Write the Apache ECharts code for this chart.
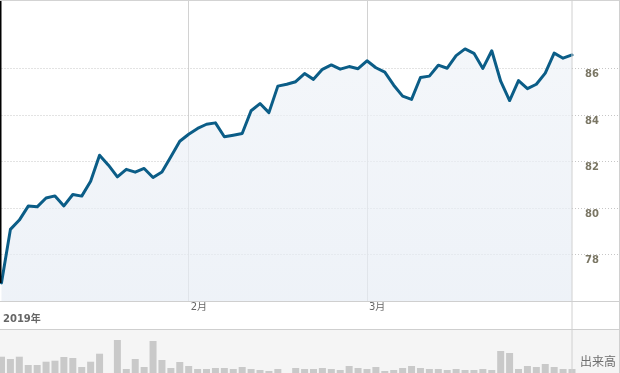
<!DOCTYPE html>
<html><head><meta charset="utf-8">
<script src="https://cdn.jsdelivr.net/npm/echarts@6/dist/echarts.min.js"></script>
<style>html,body{margin:0;padding:0;background:#fff}#c{width:620px;height:373px}</style>
</head><body><div id="c"></div>
<script>
// Closing prices (65 sessions)
const prices = [76.78,79.08,79.48,80.08,80.05,80.43,80.52,80.09,80.58,80.51,
  81.15,82.27,81.84,81.34,81.66,81.54,81.70,81.31,81.55,82.20,
  82.87,83.17,83.42,83.60,83.66,83.06,83.13,83.20,84.18,84.49,
  84.10,85.24,85.32,85.43,85.78,85.53,85.96,86.15,85.97,86.08,
  85.99,86.33,86.03,85.84,85.28,84.81,84.67,85.61,85.67,86.14,
  86.01,86.55,86.84,86.65,86.00,86.76,85.45,84.62,85.48,85.13,
  85.32,85.80,86.66,86.44,86.58];
// Volume (relative units)
const volumes = [163,140,163,80,80,113,123,160,150,60,
  113,193,0,330,40,140,60,320,130,50,
  110,70,40,40,50,50,40,60,40,30,
  20,40,0,50,40,40,50,40,30,70,
  50,40,60,20,30,50,70,50,40,40,
  30,40,30,30,40,30,220,200,40,70,
  60,90,60,40,40];
// Month boundaries (session index -> label)
const monthIndex = [21, 41];
const monthLabel = ['2月', '3月'];
const priceTicks = [78, 80, 82, 84, 86];
const yearLabel = '2019年';
const volumeLabel = '出来高';

const categories = prices.map((_, i) => String(i));
const chart = echarts.init(document.getElementById('c'), null, {renderer: 'canvas'});
const gridLineColor = '#d2d2d2';
const option = {
  animation: false,
  grid: [
    {left: 1.5, right: 48, top: 1, bottom: 72},
    {left: 572, right: 1, top: 1, bottom: 72},
    {left: 1.5, right: 48, top: 330, bottom: 0}
  ],
  xAxis: [
    {gridIndex: 0, type: 'category', data: categories, boundaryGap: false,
     axisLine: {show: false}, axisTick: {show: false},
     splitLine: {show: true, interval: (i) => monthIndex.includes(i), lineStyle: {color: gridLineColor, width: 1}},
     axisLabel: {show: true, interval: (i) => monthIndex.includes(i),
       formatter: (v, i) => { const k = monthIndex.indexOf(Number(v)); return k >= 0 ? monthLabel[k] : ''; },
       align: 'left', verticalAlign: 'top', margin: 1, padding: [0, 0, 0, 2],
       color: '#666', fontSize: 10, fontFamily: 'DejaVu Sans, Noto Sans CJK JP'}},
    {gridIndex: 1, type: 'value', min: 0, max: 1, show: false},
    {gridIndex: 2, type: 'category', data: categories, boundaryGap: false, show: false}
  ],
  yAxis: [
    {gridIndex: 0, type: 'value', min: 76, max: 88.9, show: false},
    {gridIndex: 1, type: 'value', min: 76, max: 88.9, interval: 2, position: 'left',
     axisLine: {show: false}, axisTick: {show: false}, splitLine: {show: false},
     axisLabel: {inside: true, margin: 13, verticalAlign: 'top', padding: [1, 0, 0, 0],
       formatter: (v) => priceTicks.includes(v) ? String(v) : '',
       color: '#7a7664', fontWeight: 'bold', fontSize: 10, fontFamily: 'DejaVu Sans'}},
    {gridIndex: 2, type: 'value', min: 0, max: 430, show: false}
  ],
  series: [
    {type: 'line', xAxisIndex: 0, yAxisIndex: 0, data: prices, showSymbol: false, z: 3,
     lineStyle: {color: '#0b5d87', width: 3, join: 'round', cap: 'round'},
     areaStyle: {origin: 'start', color: new echarts.graphic.LinearGradient(0, 0, 0, 1, [
       {offset: 0, color: '#eef2f7'}, {offset: 1, color: '#e6ecf4'}])},
     markLine: {silent: true, symbol: 'none', label: {show: false}, z: 2,
       lineStyle: {color: '#c6c6c6', type: [1, 2], width: 1},
       data: priceTicks.map(v => ({yAxis: v}))}},
    {type: 'line', xAxisIndex: 1, yAxisIndex: 1, data: [[0, 76], [1, 76]], showSymbol: false, silent: true,
     lineStyle: {opacity: 0},
     markLine: {silent: true, symbol: 'none', label: {show: false},
       lineStyle: {color: '#c6c6c6', type: [1, 2], width: 1},
       data: priceTicks.map(v => ({yAxis: v}))}},
    {type: 'bar', xAxisIndex: 2, yAxisIndex: 2, data: volumes, barWidth: 7, z: 3,
     itemStyle: {color: '#c9c9c9'}}
  ],
  graphic: [
    {type: 'rect', shape: {x: 0, y: 330, width: 620, height: 43}, style: {fill: '#f5f5f5'}, z: -10, silent: true},
    {type: 'rect', shape: {x: 0, y: 0, width: 1.5, height: 283}, style: {fill: '#000'}, z: 100, silent: true},
    {type: 'line', shape: {x1: 0, y1: 0.5, x2: 620, y2: 0.5}, style: {stroke: '#d3d3d3', lineWidth: 1}, z: 100, silent: true},
    {type: 'line', shape: {x1: 0, y1: 301.5, x2: 620, y2: 301.5}, style: {stroke: '#cfcfcf', lineWidth: 1}, z: 100, silent: true},
    {type: 'line', shape: {x1: 0, y1: 329.5, x2: 620, y2: 329.5}, style: {stroke: '#cfcfcf', lineWidth: 1}, z: 100, silent: true},
    {type: 'line', shape: {x1: 572, y1: 0, x2: 572, y2: 373}, style: {stroke: '#d0d0d0', lineWidth: 1}, z: 100, silent: true},
    {type: 'line', shape: {x1: 619.5, y1: 0, x2: 619.5, y2: 373}, style: {stroke: '#d0d0d0', lineWidth: 1}, z: 100, silent: true},
    {type: 'text', x: 3, y: 319, style: {text: yearLabel, fill: '#666', font: 'bold 10px "DejaVu Sans", "Noto Sans CJK JP"', verticalAlign: 'middle'}, z: 100, silent: true},
    {type: 'text', x: 580, y: 361, style: {text: volumeLabel, fill: '#6e6e6e', font: '12px "Noto Sans CJK JP"', verticalAlign: 'middle'}, z: 100, silent: true}
  ]
};
chart.setOption(option);
</script></body></html>
